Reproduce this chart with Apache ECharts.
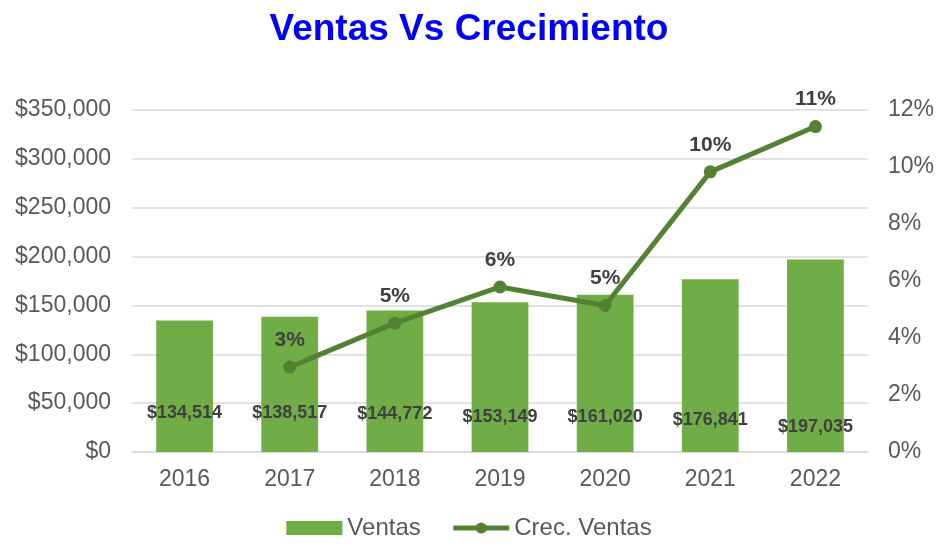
<!DOCTYPE html>
<html>
<head>
<meta charset="utf-8">
<script src="https://cdn.jsdelivr.net/npm/echarts@6/dist/echarts.min.js"></script>
<style>html,body{margin:0;padding:0;background:#fff}#c{width:938px;height:547px}</style>
</head>
<body>
<div id="c"></div>
<script>
const categories = ['2016','2017','2018','2019','2020','2021','2022'];
const ventas = [134514, 138517, 144772, 153149, 161020, 176841, 197035];
const crecimiento = [null, 2.98, 4.52, 5.79, 5.14, 9.83, 11.42];
const crecLabels = ['', '3%', '5%', '6%', '5%', '10%', '11%'];
const barLabelDrop = [0, 0, 1, 4, 4, 7, 14];

const FONT = '"Liberation Sans", Arial, sans-serif';
const fmt = v => '$' + v.toLocaleString('en-US');

const chart = echarts.init(document.getElementById('c'), null, {renderer: 'canvas'});
chart.setOption({
  animation: false,
  backgroundColor: '#fff',
  textStyle: {fontFamily: FONT},
  title: {
    text: 'Ventas Vs Crecimiento',
    left: 'center', top: 6,
    textStyle: {color: '#0000FF', fontSize: 37, fontWeight: 'bold', fontFamily: FONT}
  },
  legend: {
    bottom: 2, left: 'center',
    itemWidth: 56, itemHeight: 14, itemGap: 30,
    textStyle: {color: '#595959', fontSize: 24, fontFamily: FONT},
    data: [
      {name: 'Ventas', icon: 'rect'},
      {name: 'Crec. Ventas', lineStyle: {width: 5, color: '#548235'}}
    ]
  },
  grid: {left: 132, right: 70, top: 110, bottom: 95},
  xAxis: {
    type: 'category', data: categories,
    axisLine: {show: true, lineStyle: {color: '#d9d9d9', width: 1.5}},
    axisTick: {show: false},
    axisLabel: {color: '#595959', fontSize: 23, margin: 16, fontFamily: FONT}
  },
  yAxis: [{
    type: 'value', min: 0, max: 350000, interval: 50000,
    axisLine: {show: false}, axisTick: {show: false},
    splitLine: {lineStyle: {color: '#d9d9d9', width: 1.5}},
    axisLabel: {color: '#595959', fontSize: 23, margin: 21, fontFamily: FONT, formatter: fmt}
  }, {
    type: 'value', min: 0, max: 12, interval: 2,
    axisLine: {show: false}, axisTick: {show: false},
    splitLine: {show: false},
    axisLabel: {color: '#595959', fontSize: 23, margin: 20, fontFamily: FONT, formatter: v => v + '%'}
  }],
  series: [{
    name: 'Ventas', type: 'bar', yAxisIndex: 0,
    barWidth: '54%',
    itemStyle: {color: '#70AD47'},
    data: ventas.map((v, i) => ({
      value: v,
      label: {offset: [0, barLabelDrop[i]]}
    })),
    label: {
      show: true, position: 'insideBottom', distance: 30,
      color: '#404040', fontSize: 18, fontWeight: 'bold', fontFamily: FONT,
      formatter: p => fmt(p.value)
    }
  }, {
    name: 'Crec. Ventas', type: 'line', yAxisIndex: 1,
    data: crecimiento,
    symbol: 'circle', symbolSize: 13,
    lineStyle: {color: '#548235', width: 5},
    itemStyle: {color: '#548235'},
    label: {
      show: true, position: 'top', distance: 10,
      color: '#404040', fontSize: 21, fontWeight: 'bold', fontFamily: FONT,
      formatter: p => crecLabels[p.dataIndex]
    }
  }]
});
</script>
</body>
</html>
